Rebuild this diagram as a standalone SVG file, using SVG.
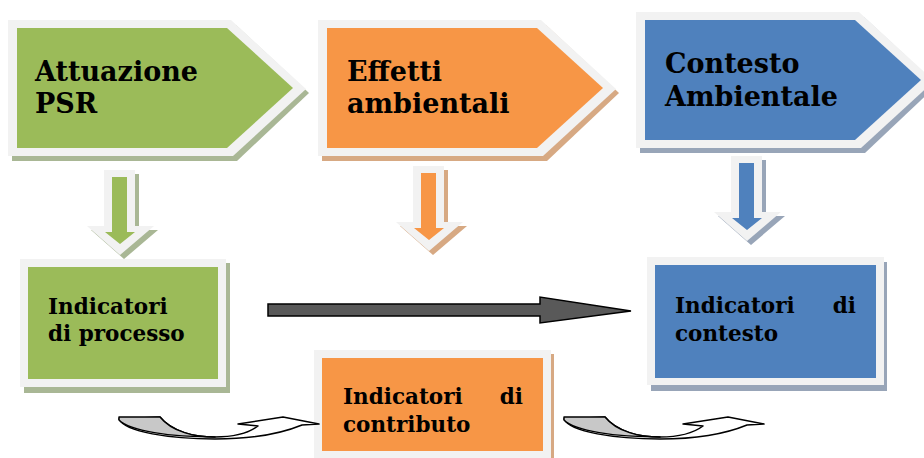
<svg xmlns="http://www.w3.org/2000/svg" width="924" height="458" viewBox="0 0 924 458">
<defs>
<style>
.t{font-family:"DejaVu Serif","Liberation Serif",serif;font-weight:bold;fill:#000}
.big{font-size:27px}
.sm{font-size:21.5px}
.bd{fill:#f2f2f2}
.g{fill:#9bbb59}.gs{fill:#a9b795}
.o{fill:#f79646}.os{fill:#d7a983}
.b{fill:#4f81bd}.bs{fill:#98a5b8}
.curv{stroke:#000;stroke-width:1.5;stroke-linejoin:round}
</style>
<polygon id="penta-sh" points="12,25 236,25 309,93 237,161 12,161"/>
<polygon id="penta-bd" points="8,20 231,20 306,89 233,156 8,156"/>
<polygon id="penta-in" points="17,28 227,28 293,88 227,148 17,148"/>
<polygon id="dn-bd" points="0,0 31,0 31,56 50,56 16,85 -17,56 0,56"/>
<polygon id="dn-in" points="8,7 23,7 23,62 31,62 16,74 1,62 8,62"/>
</defs>
<rect width="924" height="458" fill="#fff"/>

<g id="node-attuazione">
<use href="#penta-sh" class="gs"/>
<use href="#penta-bd" class="bd"/>
<use href="#penta-in" class="g"/>
<text class="t big" x="35" y="81">Attuazione</text>
<text class="t big" x="35" y="113">PSR</text>
</g>

<g id="node-effetti" transform="translate(310,0)">
<use href="#penta-sh" class="os"/>
<use href="#penta-bd" class="bd"/>
<use href="#penta-in" class="o"/>
<text class="t big" x="37" y="81">Effetti</text>
<text class="t big" x="37" y="113">ambientali</text>
</g>

<g id="node-contesto-amb" transform="translate(628,-8)">
<use href="#penta-sh" class="bs"/>
<use href="#penta-bd" class="bd"/>
<use href="#penta-in" class="b"/>
<text class="t big" x="37" y="81">Contesto</text>
<text class="t big" x="37" y="114">Ambientale</text>
</g>

<g id="node-processo">
<rect x="24" y="263" width="206" height="130" class="gs"/>
<rect x="20" y="259" width="206" height="128" class="bd"/>
<rect x="28" y="267" width="190" height="112" class="g"/>
<text class="t sm" x="48" y="314">Indicatori</text>
<text class="t sm" x="48" y="341">di processo</text>
</g>

<g id="node-contributo">
<rect x="318" y="354" width="236" height="110" class="os"/>
<rect x="314" y="350" width="237" height="110" class="bd"/>
<rect x="322" y="358" width="221" height="93" class="o"/>
<text class="t sm" x="343" y="404">Indicatori</text>
<text class="t sm" x="523" y="404" text-anchor="end">di</text>
<text class="t sm" x="343" y="432">contributo</text>
</g>

<g id="node-contesto">
<rect x="651" y="262" width="236" height="129" class="bs"/>
<rect x="647" y="257" width="237" height="128" class="bd"/>
<rect x="655" y="265" width="221" height="113" class="b"/>
<text class="t sm" x="675" y="313">Indicatori</text>
<text class="t sm" x="856" y="313" text-anchor="end">di</text>
<text class="t sm" x="675" y="341">contesto</text>
</g>

<g id="connectors">
<g transform="translate(104,170)">
<use href="#dn-bd" class="gs" transform="translate(4,4)"/>
<use href="#dn-bd" class="bd"/>
<use href="#dn-in" class="g"/>
</g>
<g transform="translate(413,166)">
<use href="#dn-bd" class="os" transform="translate(4,4)"/>
<use href="#dn-bd" class="bd"/>
<use href="#dn-in" class="o"/>
</g>
<g transform="translate(731,156)">
<use href="#dn-bd" class="bs" transform="translate(4,4)"/>
<use href="#dn-bd" class="bd"/>
<use href="#dn-in" class="b"/>
</g>
<polygon points="268,304 540,304 540,297 631,311 540,323 540,316 268,316" fill="#595959" stroke="#000" stroke-width="1.5" stroke-linejoin="miter"/>
<g id="curved1">
<path class="curv" fill="#fff" d="M160,417 C172,432 195,437 215,437 C235,437 250,432 258,426 L238,424 L283,417 L319,424 L302,425 C285,432 255,439 215,439 C170,439 125,432 119,419 Z"/>
<path class="curv" fill="#c8c8c8" d="M119,417 L160,417 C172,432 195,437 215,437 C170,437 130,431 119,420 Z"/>
</g>
<g id="curved2" transform="translate(445,0)">
<path class="curv" fill="#fff" d="M160,417 C172,432 195,437 215,437 C235,437 250,432 258,426 L238,424 L283,417 L319,424 L302,425 C285,432 255,439 215,439 C170,439 125,432 119,419 Z"/>
<path class="curv" fill="#c8c8c8" d="M119,417 L160,417 C172,432 195,437 215,437 C170,437 130,431 119,420 Z"/>
</g>
</g>
</svg>
